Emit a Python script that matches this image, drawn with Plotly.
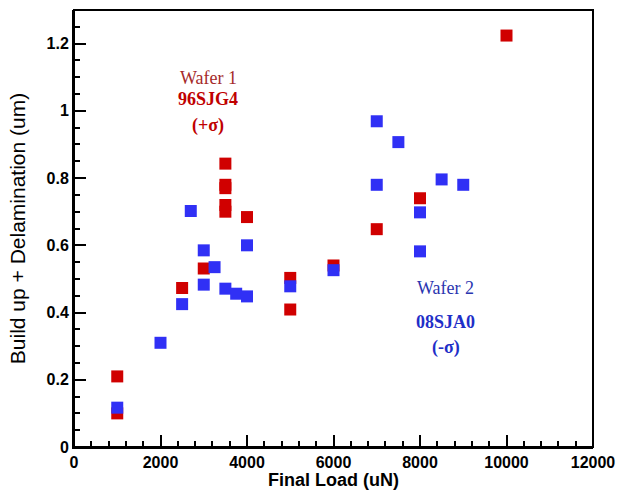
import plotly.graph_objects as go

# Wafer 1 (96SJG4, +sigma) - red
w1_load = [1000, 1000, 2500, 3000, 3500, 3500, 3500, 3500, 3500, 4000, 5000, 5000, 6000, 7000, 8000, 10000]
w1_val = [0.21, 0.10, 0.473, 0.531, 0.843, 0.78, 0.77, 0.72, 0.70, 0.684, 0.503, 0.409, 0.54, 0.648, 0.74, 1.224]

# Wafer 2 (08SJA0, -sigma) - blue
w2_load = [1000, 2000, 2500, 2700, 3000, 3000, 3250, 3500, 3750, 4000, 4000, 5000, 6000, 7000, 7000, 7500, 8000, 8000, 8500, 9000]
w2_val = [0.117, 0.31, 0.425, 0.702, 0.585, 0.483, 0.535, 0.471, 0.456, 0.448, 0.60, 0.478, 0.526, 0.969, 0.78, 0.907, 0.698, 0.582, 0.796, 0.78]

red = "#D00000"
blue = "#3030F5"

fig = go.Figure()
fig.add_trace(go.Scatter(x=w1_load, y=w1_val, mode="markers",
                         marker=dict(symbol="square", size=12, color=red),
                         name="Wafer 1", showlegend=False))
fig.add_trace(go.Scatter(x=w2_load, y=w2_val, mode="markers",
                         marker=dict(symbol="square", size=12, color=blue),
                         name="Wafer 2", showlegend=False))

serif = "Liberation Serif"
ann = [
    (3100, 1.098, "Wafer 1", "#A52A2A"),
    (3100, 1.035, "<b>96SJG4</b>", "#C00000"),
    (3100, 0.955, "<b>(+σ)</b>", "#C00000"),
    (8600, 0.473, "Wafer 2", "#2A35B0"),
    (8600, 0.372, "<b>08SJA0</b>", "#1F2FC8"),
    (8600, 0.297, "<b>(-σ)</b>", "#1F2FC8"),
]
for x, y, t, c in ann:
    fig.add_annotation(x=x, y=y, text=t, showarrow=False,
                       font=dict(family=serif, size=18, color=c))

# plot frame (top/right borders) as a domain-referenced rectangle
fig.add_shape(type="rect", xref="x domain", yref="y domain", x0=0, x1=1, y0=0, y1=1,
              line=dict(color="black", width=2), layer="above")

fig.update_layout(
    width=621, height=490,
    margin=dict(l=74, r=28, t=10, b=43),
    plot_bgcolor="white", paper_bgcolor="white",
    font=dict(family="Liberation Sans", color="black"),
)
fig.update_xaxes(
    range=[0, 12000], dtick=2000, tickformat="d",
    showline=True, linewidth=2, linecolor="black",
    showgrid=False, zeroline=False,
    ticks="inside", ticklen=12, tickwidth=2, tickcolor="black",
    minor=dict(ticks="inside", dtick=400, ticklen=6, tickcolor="black"),
    tickfont=dict(family="Liberation Sans", size=16, color="black"),
    tickprefix="<b>", ticksuffix="</b>",
    automargin=False,
    title=dict(text="<b>Final Load (uN)</b>",
               font=dict(family="Liberation Sans", size=18, color="black")),
)
fig.update_yaxes(
    range=[0, 1.3], dtick=0.2,
    showline=True, linewidth=2, linecolor="black",
    showgrid=False, zeroline=False,
    ticks="inside", ticklen=12, tickwidth=2, tickcolor="black",
    minor=dict(ticks="inside", dtick=0.05, ticklen=6, tickcolor="black"),
    tickfont=dict(family="Liberation Sans", size=16, color="black"),
    tickprefix="<b>", ticksuffix="</b>",
    automargin=False,
    title=dict(text="Build up + Delamination (um)",
               font=dict(family="Liberation Sans", size=21, color="black")),
)

fig.write_html("out.html")
